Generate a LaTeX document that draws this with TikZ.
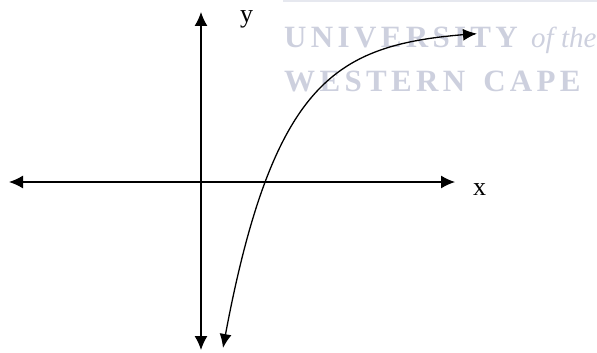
\documentclass[tikz,border=0pt]{standalone}
\usepackage{fontspec}
\setmainfont{Liberation Serif}
\newfontfamily\wmfont[LetterSpace=14]{Liberation Serif}
\usetikzlibrary{arrows.meta}
\definecolor{wm}{HTML}{CDD0DE}
\definecolor{wmband}{HTML}{E6E8EF}
\tikzset{
  axis/.style={line width=1.3pt,{Latex[length=14pt,width=13pt]}-{Latex[length=14pt,width=13pt]}},
  curve/.style={line width=1.3pt,{Latex[length=14pt,width=12pt]}-{Latex[length=14pt,width=12pt]}},
  wmtext/.style={inner sep=0pt,anchor=base west,text=wm},
  lbl/.style={inner sep=0pt,anchor=base west,font=\fontsize{26}{30}\selectfont}
}
\begin{document}
\begin{tikzpicture}[x=1pt,y=-1pt]
\useasboundingbox (0,0) rectangle (597,353);
% watermark
\fill[wmband] (283,0) rectangle (597,2.5);
\node[wmtext] (wm1) at (284,48) {\wmfont\bfseries\fontsize{31}{36}\selectfont UNIVERSITY};
\node[wmtext] (wm1b) at (531,48) {\itshape\fontsize{29}{34}\selectfont of the};
\node[wmtext] (wm2) at (284,92) {\wmfont\bfseries\fontsize{31}{36}\selectfont WESTERN\hspace{18pt}CAPE};
% axes
\coordinate (xl) at (9,182);
\coordinate (xr) at (455,182);
\coordinate (yt) at (201,12);
\coordinate (yb) at (201,350);
\draw[axis] (xl) -- (xr);
\draw[axis] (yb) -- (yt);
\node[lbl] (ylab) at (240,23) {y};
\node[lbl] (xlab) at (473,195) {x};
% curve
\draw[curve] plot[domain=223:477,samples=100,smooth] (\x,{30+318*exp(-0.01755*(\x-223))});
\end{tikzpicture}
\end{document}
